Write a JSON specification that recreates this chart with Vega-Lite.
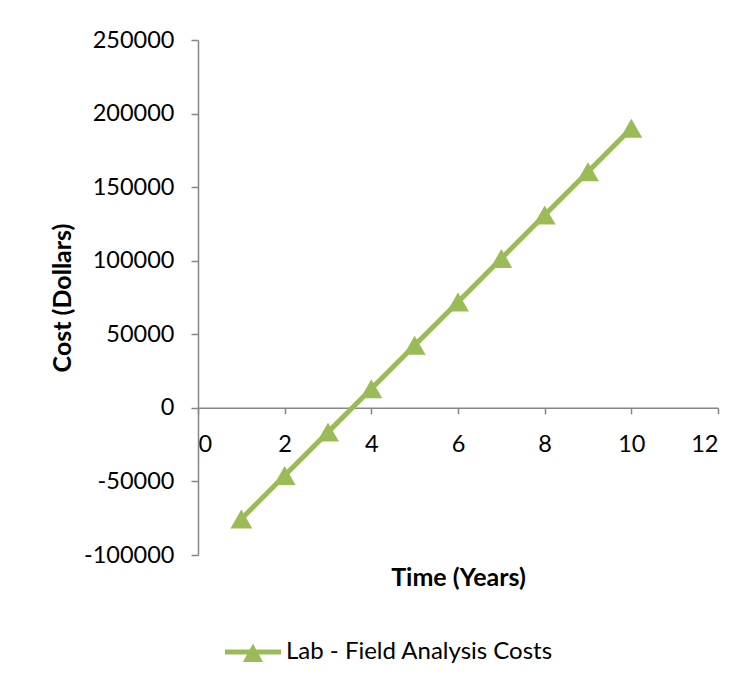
{
  "$schema": "https://vega.github.io/schema/vega-lite/v6.json",
  "width": 520,
  "height": 515,
  "autosize": {"type": "none"},
  "padding": {"left": 198, "top": 40, "right": 37, "bottom": 130},
  "background": "white",
  "data": {
    "values": [
      {"year": 1, "cost": -75500, "series": "Lab - Field Analysis Costs"},
      {"year": 2, "cost": -46000, "series": "Lab - Field Analysis Costs"},
      {"year": 3, "cost": -16500, "series": "Lab - Field Analysis Costs"},
      {"year": 4, "cost": 13000, "series": "Lab - Field Analysis Costs"},
      {"year": 5, "cost": 42500, "series": "Lab - Field Analysis Costs"},
      {"year": 6, "cost": 72000, "series": "Lab - Field Analysis Costs"},
      {"year": 7, "cost": 101500, "series": "Lab - Field Analysis Costs"},
      {"year": 8, "cost": 131000, "series": "Lab - Field Analysis Costs"},
      {"year": 9, "cost": 160500, "series": "Lab - Field Analysis Costs"},
      {"year": 10, "cost": 190000, "series": "Lab - Field Analysis Costs"}
    ]
  },
  "encoding": {
    "x": {
      "field": "year", "type": "quantitative",
      "scale": {"domain": [0, 12], "nice": false, "zero": false},
      "axis": {
        "title": "Time (Years)",
        "values": [0, 2, 4, 6, 8, 10, 12],
        "offset": -147.14,
        "grid": false,
        "titleY": 170,
        "titleBaseline": "middle",
        "labelPadding": 19,
        "tickSize": 6
      }
    },
    "y": {
      "field": "cost", "type": "quantitative",
      "scale": {"domain": [-100000, 250000], "nice": false, "zero": false},
      "axis": {
        "title": "Cost (Dollars)",
        "values": [-100000, -50000, 0, 50000, 100000, 150000, 200000, 250000],
        "labelExpr": "datum.value + ''",
        "grid": false,
        "tickSize": 7,
        "labelPadding": 17,
        "titleX": -136,
        "titleY": 257.5,
        "titleAngle": -90,
        "titleBaseline": "middle"
      }
    }
  },
  "layer": [
    {
      "mark": {"type": "line", "color": "#9BBB59", "strokeWidth": 5}
    },
    {
      "mark": {"type": "point", "shape": "triangle-up", "size": 480, "filled": true, "opacity": 1, "strokeWidth": 0},
      "encoding": {
        "color": {
          "field": "series", "type": "nominal",
          "scale": {"range": ["#9BBB59"]},
          "legend": {
            "title": null,
            "orient": "none",
            "legendX": 27,
            "legendY": 584,
            "symbolType": "M-1,-0.09L1,-0.09L1,0.09L-1,0.09Z M-0.36,0.36L0,-0.3L0.36,0.36Z",
            "symbolSize": 3136,
            "symbolStrokeWidth": 0,
            "symbolOpacity": 1,
            "labelFontSize": 24,
            "labelFont": "Lato",
            "labelColor": "#000000",
            "labelOffset": 5,
            "labelLimit": 400
          }
        }
      }
    }
  ],
  "config": {
    "view": {"stroke": null},
    "axis": {
      "labelFont": "Lato",
      "labelFontSize": 23.5,
      "labelColor": "#000000",
      "titleFont": "Lato",
      "titleFontSize": 25,
      "titleFontWeight": "bold",
      "titleColor": "#000000",
      "domainColor": "#868686",
      "domainWidth": 1.5,
      "tickColor": "#868686",
      "tickWidth": 1.5
    }
  }
}
